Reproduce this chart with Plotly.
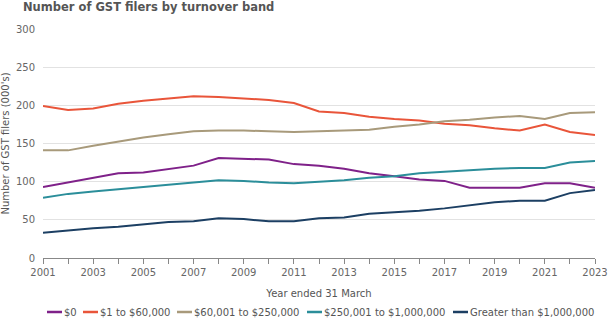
import plotly.graph_objects as go

years = list(range(2001, 2024))

zero_band = [93, 99, 105, 111, 112, 116, 121, 131, 130, 129, 123, 121, 117, 111, 107, 103, 101, 92, 92, 92, 98, 98, 92]
band_1_60k = [199, 194, 196, 202, 206, 209, 212, 211, 209, 207, 203, 192, 190, 185, 182, 180, 176, 174, 170, 167, 175, 165, 161]
band_60k_250k = [141, 141, 147, 153, 158, 162, 166, 167, 167, 166, 165, 166, 167, 168, 172, 175, 179, 181, 184, 186, 182, 190, 191]
band_250k_1m = [79, 84, 87, 90, 93, 96, 99, 102, 101, 99, 98, 100, 102, 105, 107, 111, 113, 115, 117, 118, 118, 125, 127]
band_over_1m = [33, 36, 39, 41, 44, 47, 48, 52, 51, 48, 48, 52, 53, 58, 60, 62, 65, 69, 73, 75, 75, 85, 89]

band_names = ["$0", "$1 to $60,000", "$60,001 to $250,000", "$250,001 to $1,000,000", "Greater than $1,000,000"]
band_values = [zero_band, band_1_60k, band_60k_250k, band_250k_1m, band_over_1m]
band_colors = ["#7F2189", "#E9553A", "#A89A7B", "#2B8E9A", "#1C3F63"]

W, H = 616, 327
L, R, T, B = 43, 21, 29, 69
PW, PH = W - L - R, H - T - B

font_family = "DejaVu Sans, Verdana, sans-serif"
text_color = "#555555"

fig = go.Figure()
for name, values, color in zip(band_names, band_values, band_colors):
    fig.add_trace(go.Scatter(
        x=years, y=values, name=name, mode="lines",
        line=dict(color=color, width=2),
        showlegend=False,
    ))

# Custom one-row legend below the x axis title (pixel positions of each key line)
legend_left_px = [47, 83, 177, 307, 453]
legend_y_px = 312
key_len = 15


def px_x(px):
    return (px - L) / PW


def px_y(py):
    return (H - B - py) / PH


for name, color, lx in zip(band_names, band_colors, legend_left_px):
    fig.add_shape(
        type="line", xref="paper", yref="paper",
        x0=px_x(lx), x1=px_x(lx + key_len),
        y0=px_y(legend_y_px), y1=px_y(legend_y_px),
        line=dict(color=color, width=2.5),
    )
    fig.add_annotation(
        xref="paper", yref="paper",
        x=px_x(lx + key_len), y=px_y(legend_y_px),
        xanchor="left", yanchor="middle", showarrow=False,
        text=name, font=dict(size=10, color=text_color, family=font_family),
    )

fig.update_layout(
    width=W, height=H,
    margin=dict(l=L, r=R, t=T, b=B),
    paper_bgcolor="white", plot_bgcolor="white",
    font=dict(family=font_family, size=10, color="#666666"),
    title=dict(
        text="<b>Number of GST filers by turnover band</b>",
        x=23 / W, xref="container", xanchor="left",
        y=1, yref="container", yanchor="top", pad=dict(t=3),
        font=dict(size=11.5, color=text_color, family=font_family),
    ),
    showlegend=False,
)

fig.update_xaxes(
    range=[2001, 2023], tickmode="linear", tick0=2001, dtick=2,
    showgrid=False, showline=True, linecolor="#888888", linewidth=1,
    ticks="outside", ticklen=5, tickcolor="#888888",
    minor=dict(ticks="outside", dtick=1, tick0=2001, ticklen=5, tickcolor="#888888", showgrid=False),
    title=dict(text="Year ended 31 March", font=dict(size=10, color=text_color), standoff=12),
    zeroline=False, automargin=False,
    tickfont=dict(size=10, color="#666666"),
)
fig.update_yaxes(
    range=[0, 300], tickmode="linear", tick0=0, dtick=50,
    showgrid=True, gridcolor="#E2E2E2", gridwidth=1,
    showline=False, zeroline=False, ticks="",
    ticklabelstandoff=7,
    title=dict(text="Number of GST filers (000's)", font=dict(size=10, color=text_color), standoff=5),
    automargin=False,
    tickfont=dict(size=10, color="#666666"),
)

fig.write_html("out.html")
